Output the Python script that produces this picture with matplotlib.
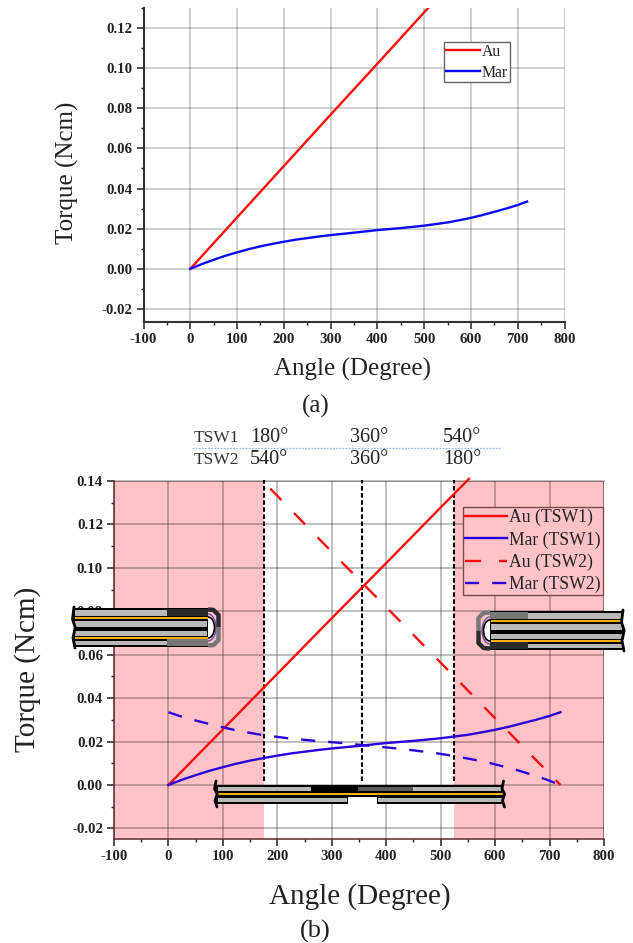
import matplotlib
matplotlib.use("Agg")
import matplotlib.pyplot as plt
from matplotlib.patches import Rectangle, Ellipse

W, H = 633, 943
plt.rcParams['font.family'] = ['Liberation Serif', 'DejaVu Serif']

# curves
au_angle = [0, 100, 200, 300, 400, 500, 552]
au_torque = [0, 0.0256, 0.0512, 0.0768, 0.1022, 0.1278, 0.141]
mar_angle = [0, 25, 50, 75, 100, 125, 150, 175, 200, 225, 250, 275, 300, 350, 400, 450, 500,
             550, 575, 600, 625, 650, 675, 700, 720]
mar_torque = [0, 0.0024, 0.0045, 0.0065, 0.0082, 0.0098, 0.0112, 0.0124, 0.0135, 0.0145, 0.0153,
              0.0161, 0.0168, 0.018, 0.0193, 0.0203, 0.0215, 0.0231, 0.0242, 0.0254, 0.0268,
              0.0284, 0.03, 0.0318, 0.0335]
au2_angle = [187, 220, 320, 420, 520, 620, 720]
au2_torque = [0.1365, 0.128, 0.1022, 0.0768, 0.0512, 0.0256, 0]
mar2_angle = [0, 20, 45, 70, 95, 120, 145, 170, 220, 270, 320, 370, 420, 445, 470, 495, 520,
              545, 570, 595, 620, 645, 670, 695, 720]
mar2_torque = [0.0335, 0.0318, 0.03, 0.0284, 0.0268, 0.0254, 0.0242, 0.0231, 0.0215, 0.0203,
               0.0193, 0.018, 0.0168, 0.0161, 0.0153, 0.0145, 0.0135, 0.0124, 0.0112, 0.0098,
               0.0082, 0.0065, 0.0045, 0.0024, 0]

x_ticks = [-100, 0, 100, 200, 300, 400, 500, 600, 700, 800]
y_ticks_a = [-0.02, 0, 0.02, 0.04, 0.06, 0.08, 0.10, 0.12]
y_ticks_b = [-0.02, 0, 0.02, 0.04, 0.06, 0.08, 0.10, 0.12, 0.14]
pink_spans = [(-100, 175), (525, 800)]
marks = [175, 355, 525]
tsw_angles1 = ["180°", "360°", "540°"]
tsw_angles2 = ["540°", "360°", "180°"]

PINK = '#FFC2C6'
RED = '#FF0A0A'
BLUE = '#0A0AF5'
INDIGO = '#2A00DC'
GRID = '#261a1a'


def px_axes(fig, left, right, top, bottom):
    return fig.add_axes([left / W, 1 - bottom / H, (right - left) / W, (bottom - top) / H])


def style_axes(ax, ylim, yticks, spine_col, spine_w, grid_alpha):
    ax.set_xlim(-100, 800)
    ax.set_ylim(*ylim)
    ax.set_xticks(x_ticks)
    ax.set_yticks(yticks)
    ax.set_xticks(range(-50, 800, 100), minor=True)
    ax.set_yticks([v / 100 for v in range(-1, int(ylim[1] * 100) + 1, 2)], minor=True)
    ax.set_xticklabels([str(v) for v in x_ticks])
    ax.set_yticklabels(["%.2f" % v for v in yticks])
    for s in ['top', 'right']:
        ax.spines[s].set_visible(False)
    for s in ['left', 'bottom']:
        ax.spines[s].set_linewidth(spine_w)
        ax.spines[s].set_color(spine_col)
    ax.tick_params(which='major', direction='out', length=5, width=1.1, labelsize=10.7, pad=3, color='#222222')
    ax.tick_params(which='minor', direction='out', length=2.5, width=1.0, color='#222222')
    for lab in ax.get_xticklabels() + ax.get_yticklabels():
        lab.set_fontweight('bold')
        lab.set_color('#222222')
    ax.grid(True, which='major', color=GRID, alpha=grid_alpha, lw=1.1, zorder=1)
    ax.set_axisbelow(True)


def px_legend(ax, handles, corner, size, hlen, spacing):
    leg = ax.legend(handles=handles, loc='upper left', bbox_to_anchor=(corner[0] / W, 1 - corner[1] / H),
                    bbox_transform=ax.figure.transFigure, borderaxespad=0, fontsize=size, fancybox=False,
                    framealpha=1, handlelength=hlen, handletextpad=0.1, labelspacing=spacing, borderpad=0.12,
                    labelcolor='#222222')
    return leg


fig = plt.figure(figsize=(W / 100, H / 100), dpi=100)

# panel (a)
ax1 = px_axes(fig, 143.5, 564.5, 7.5, 322)
style_axes(ax1, (-0.0265, 0.1302), y_ticks_a, '#333333', 1.5, 0.27)
l1, = ax1.plot(au_angle, au_torque, color=RED, lw=1.7, label="Au", zorder=3)
l2, = ax1.plot(mar_angle, mar_torque, color=BLUE, lw=1.7, label="Mar", zorder=3)
leg = px_legend(ax1, [l1, l2], (444, 42), 11.3, 2.2, 0.3)
leg.get_frame().set_edgecolor('#666666')
leg.get_frame().set_linewidth(1.0)
leg.get_frame().set_facecolor('white')
fig.text(67 / W, 1 - 173 / H, "Torque (Ncm)", rotation=90, fontsize=18, ha='center', va='center', color='#222222')
fig.text(353 / W, 1 - 369 / H, "Angle (Degree)", fontsize=18, ha='center', va='center', color='#222222')
fig.text(316 / W, 1 - 406 / H, "(a)", fontsize=18, ha='center', va='center', color='#222222')

# panel (b)
ax2 = px_axes(fig, 114, 604, 481, 839)
style_axes(ax2, (-0.0249, 0.14), y_ticks_b, '#5a2a2a', 1.1, 0.36)
for a, b in pink_spans:
    ax2.axvspan(a, b, facecolor=PINK, edgecolor='none', zorder=0.5)
ax2.axvline(800, color=GRID, alpha=0.36, lw=1.1, zorder=1)
ax2.axhline(0.14, color=GRID, alpha=0.36, lw=1.1, zorder=1, clip_on=False)
for m in marks:
    ax2.plot([m, m], [0.002, 0.1405], color='black', lw=1.5, linestyle=(0, (2.2, 1.2)), zorder=2.5, clip_on=False)
h1, = ax2.plot(au_angle, au_torque, color=RED, lw=1.7, label="Au (TSW1)", zorder=3, clip_on=False)
h2, = ax2.plot(mar_angle, mar_torque, color=INDIGO, lw=1.7, label="Mar (TSW1)", zorder=3)
h3, = ax2.plot(au2_angle, au2_torque, color=RED, lw=1.7, linestyle=(0, (6.8, 7.6)), label="Au (TSW2)", zorder=3)
h4, = ax2.plot(mar2_angle, mar2_torque, color=INDIGO, lw=1.7, linestyle=(0, (6, 5.5)), label="Mar (TSW2)", zorder=3)
leg = px_legend(ax2, [h1, h2, h3, h4], (463, 507), 12.7, 2.4, 0.28)
leg.get_frame().set_edgecolor('#7a4a4a')
leg.get_frame().set_linewidth(1.0)
leg.get_frame().set_facecolor(PINK)
fig.text(28 / W, 1 - 669 / H, "Torque (Ncm)", rotation=90, fontsize=21, ha='center', va='center', color='#222222')
fig.text(360 / W, 1 - 897 / H, "Angle (Degree)", fontsize=21, ha='center', va='center', color='#222222')
fig.text(315 / W, 1 - 931 / H, "(b)", fontsize=19, ha='center', va='center', color='#222222')

# overlay in pixel coordinates: header row and the tape sketches
ov = fig.add_axes([0, 0, 1, 1], zorder=10)
ov.set_xlim(0, W)
ov.set_ylim(H, 0)
ov.axis('off')

ov.text(216, 438, "TSW1", fontsize=12.5, ha='center', va='center', color='#333333')
ov.text(216, 460, "TSW2", fontsize=12.5, ha='center', va='center', color='#333333')
for xp, t1, t2 in zip([269, 369, 462], tsw_angles1, tsw_angles2):
    ov.text(xp, 437, t1, fontsize=14.5, ha='center', va='center', color='#222222')
    ov.text(xp, 459, t2, fontsize=14.5, ha='center', va='center', color='#222222')
ov.plot([192, 501], [448, 448], color='#9DBBE3', lw=0.9, linestyle=(0, (1.5, 1)))

GREY = '#B8B8B8'
ORANGE = '#F5B000'


def fill(x0, x1, y0, y1, col):
    ov.add_patch(Rectangle((x0, y0), x1 - x0, y1 - y0, facecolor=col, edgecolor='none'))


def edge(x, y0, y1):
    ov.plot([x, x - 1.5, x + 1.2, x - 1, x + 1], [y0, y0 + (y1 - y0) * 0.3, y0 + (y1 - y0) * 0.5,
                                                  y0 + (y1 - y0) * 0.75, y1],
            color='black', lw=2.0, solid_capstyle='round')


def folded(x_flat, x_dark, x_fold, x_cap, y_top, y_bot, top_col, bot_col):
    # four stacked layers wrapped round at one end
    y_mid = (y_top + y_bot) / 2
    x0, x1 = min(x_flat, x_fold), max(x_flat, x_fold)
    sign = 1 if x_cap > x_fold else -1
    ov.plot([x_fold, x_cap - sign * 5, x_cap, x_cap], [y_top + 1.5, y_top + 2, y_top + 7, y_mid],
            color=top_col, lw=3.2, solid_capstyle='butt')
    ov.plot([x_cap, x_cap, x_cap - sign * 5, x_fold], [y_mid, y_bot - 7, y_bot - 2, y_bot - 1.5],
            color=bot_col, lw=3.2, solid_capstyle='butt')
    ov.add_patch(Ellipse((x_fold, y_mid), 16, 27, facecolor='none', edgecolor='#6A55B0', lw=1.0))
    ov.add_patch(Ellipse((x_fold, y_mid), 13, 21, facecolor='white', edgecolor='black', lw=1.2))
    fill(x0, x1, y_top, y_bot, 'black')
    fill(x0 + 1, x1 - 1, y_top + 2, y_top + 8, GREY)
    fill(x0 + 1, x1 - 1, y_top + 13, y_top + 18.5, GREY)
    fill(x0 + 1, x1 - 1, y_top + 22.5, y_top + 28, GREY)
    fill(x0 + 1, x1 - 1, y_top + 33, y_bot - 2, GREY)
    fill(x0 + 1, x1, y_top + 9.2, y_top + 11.2, ORANGE)
    fill(x0 + 1, x1, y_top + 29.2, y_top + 31.2, ORANGE)
    d0, d1 = min(x_dark, x_fold), max(x_dark, x_fold)
    fill(d0, d1, y_top + 1, y_top + 8, top_col)
    fill(d0, d1, y_bot - 8, y_bot - 1, bot_col)
    edge(x_flat, y_top - 1, y_bot + 1)


folded(74, 167, 208, 218.5, 608, 647, '#2A2A2A', '#777777')
folded(623, 528, 490, 478.5, 611, 650, '#777777', '#2A2A2A')

# flat sketch under the curves
fill(216, 503, 784.5, 796.5, 'black')
fill(216, 347.5, 796.5, 803.5, 'black')
fill(376.5, 503, 796.5, 803.5, 'black')
fill(218, 311, 786.8, 791, GREY)
fill(358, 413, 786.8, 791, '#5A5A5A')
fill(413, 501, 786.8, 791, GREY)
fill(217, 503, 793.3, 795.3, ORANGE)
fill(218, 346.5, 798, 802, GREY)
fill(378, 502, 798, 802, GREY)
edge(216, 781, 807)
edge(503.5, 781, 807)

fig.savefig("out.png", dpi=100)
